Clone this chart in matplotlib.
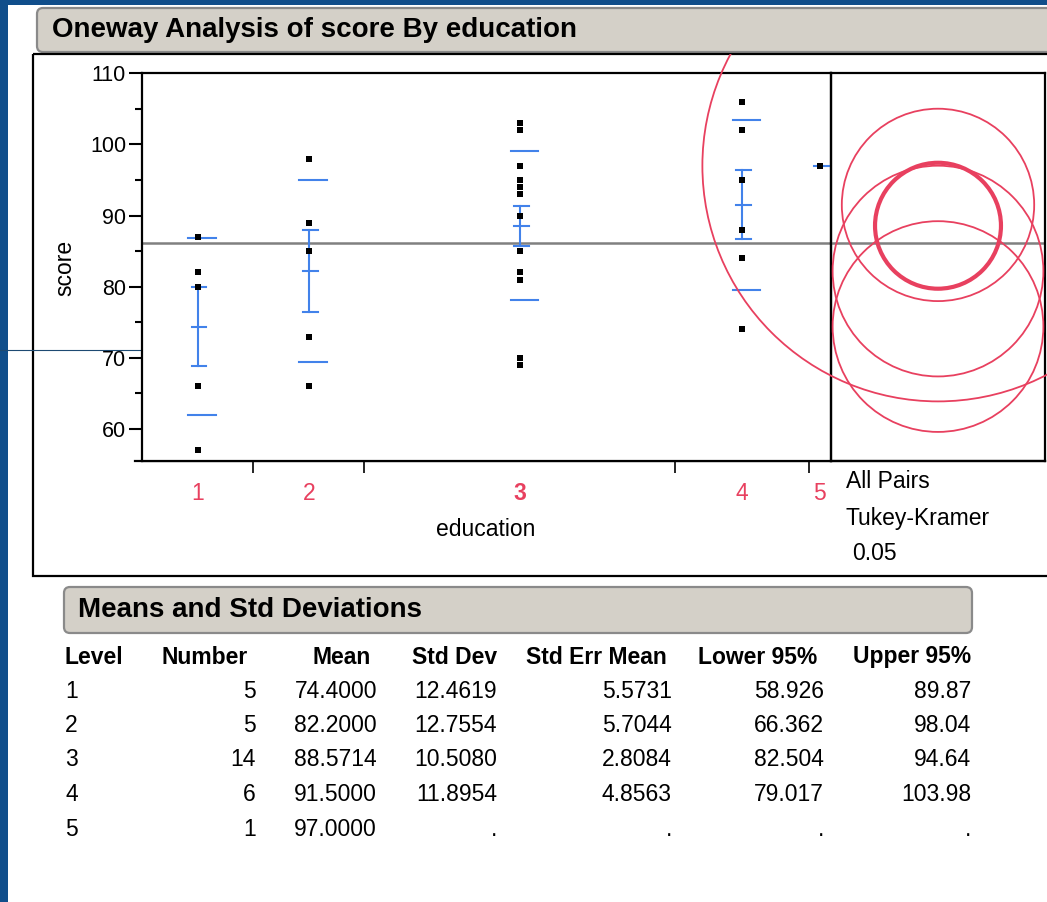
import matplotlib
matplotlib.use('Agg')
import matplotlib.pyplot as plt
from matplotlib.patches import Rectangle, FancyBboxPatch, Circle
import numpy as np

plt.rcParams['font.family'] = ['Liberation Sans', 'DejaVu Sans']

# ---------------- data ----------------
levels = ['1', '2', '3', '4', '5']
scores_1 = [87, 82, 80, 66, 57]
scores_2 = [98, 89, 85, 73, 66]
scores_3 = [103, 102, 97, 95, 94, 94, 93, 90, 85, 85, 82, 81, 70, 69]
scores_4 = [106, 102, 95, 88, 84, 74]
scores_5 = [97]
groups = [scores_1, scores_2, scores_3, scores_4, scores_5]

counts = [5, 5, 14, 6, 1]
means = [74.4000, 82.2000, 88.5714, 91.5000, 97.0000]
std_devs = [12.4619, 12.7554, 10.5080, 11.8954, None]
std_errs = [5.5731, 5.7044, 2.8084, 4.8563, None]
lower95 = [58.926, 66.362, 82.504, 79.017, None]
upper95 = [89.87, 98.04, 94.64, 103.98, None]
q_star = 2.89  # Tukey-Kramer quantile used for comparison circles
selected_level = '3'

yticks = [60, 70, 80, 90, 100, 110]
ylim = (55.5, 110)

# ---------------- colours ----------------
BG_BLUE = '#104e8b'
BEIGE = '#d4d0c8'
RED = '#e8405f'
BLUE = '#4282ea'
GRAY = '#808080'

W, H = 1047, 902
fig = plt.figure(figsize=(W / 100, H / 100), dpi=100, facecolor=BG_BLUE)

# background / decoration axes in pixel coordinates
bg = fig.add_axes([0, 0, 1, 1])
bg.set_xlim(0, W)
bg.set_ylim(H, 0)
bg.axis('off')
bg.add_patch(Rectangle((8, 5), W, H, fc='white', ec='none'))
bg.add_patch(FancyBboxPatch((37, 8), 1100, 44, boxstyle='round,pad=0,rounding_size=6',
                            fc=BEIGE, ec='#8a8a8a', lw=1.6))
bg.add_patch(Rectangle((33, 54), 1100, 522, fill=False, ec='black', lw=1.6))
bg.text(52, 30, 'Oneway Analysis of score By education', fontsize=20, fontweight='bold',
        ha='left', va='center', color='black')
bg.plot([0, 141], [349.5, 349.5], color='#1d4a72', lw=0.8)
bg.plot([135, 1045], [461, 461], color='black', lw=1.6)

# second header
bg.add_patch(FancyBboxPatch((64, 587), 908, 46, boxstyle='round,pad=0,rounding_size=6',
                            fc=BEIGE, ec='#8a8a8a', lw=1.6))
bg.text(78, 610, 'Means and Std Deviations', fontsize=20, fontweight='bold',
        ha='left', va='center')

# ---------------- main plot ----------------
px_left, px_right, px_top, px_bot = 142, 831, 73.3, 461
ax = fig.add_axes([px_left / W, 1 - px_bot / H, (px_right - px_left) / W, (px_bot - px_top) / H])
N = sum(counts)
edges = np.concatenate([[0], np.cumsum(counts)])
centers = (edges[:-1] + edges[1:]) / 2
ax.set_xlim(0, N)
ax.set_ylim(*ylim)

all_scores = [s for g in groups for s in g]
grand_mean = np.mean(all_scores)
ax.axhline(grand_mean, color=GRAY, lw=1.8, zorder=2)

for c, g, m, sd, se in zip(centers, groups, means, std_devs, std_errs):
    if sd is not None:
        for v in (m - sd, m + sd):
            ax.plot([c - 0.42, c + 0.81], [v, v], color=BLUE, lw=1.5, zorder=3)
        ax.plot([c, c], [m - se, m + se], color=BLUE, lw=1.5, zorder=3)
        for v in (m - se, m, m + se):
            ax.plot([c - 0.27, c + 0.40], [v, v], color=BLUE, lw=1.5, zorder=3)
    else:
        ax.plot([c - 0.27, c + 0.40], [m, m], color=BLUE, lw=1.5, zorder=3)
    ax.plot([c] * len(g), g, 's', color='black', ms=4.5, mew=0, zorder=4)

for sp in ax.spines.values():
    sp.set_linewidth(1.6)
    sp.set_color('black')
ax.set_yticks(yticks)
ax.set_yticks([65, 75, 85, 95, 105], minor=True)
ax.tick_params(axis='y', which='major', length=9.5, width=1.5, labelsize=15.5, pad=2)
ax.tick_params(axis='y', which='minor', length=5, width=1.5)
ax.set_xticks(edges[1:-1])
ax.set_xticklabels([])
ax.tick_params(axis='x', which='major', length=8.5, width=1.2, direction='out')

for c, lab in zip(centers, levels):
    ax.text(c, 493, lab, transform=ax.get_xaxis_transform() if False else None,
            fontsize=16.5, color=RED, ha='center', va='center',
            fontweight='bold' if lab == selected_level else 'normal') if False else None
    x_px = px_left + c / N * (px_right - px_left)
    bg.text(x_px, 494, lab, fontsize=16.5, color=RED, ha='center', va='center',
            fontweight='bold' if lab == selected_level else 'normal')

bg.text(486, 529, 'education', fontsize=16.5, ha='center', va='center')
bg.text(65, 268, 'score', fontsize=16.5, ha='center', va='center', rotation=90)
bg.text(846, 482, 'All Pairs', fontsize=16.5, ha='left', va='center')
bg.text(846, 518, 'Tukey-Kramer', fontsize=16.5, ha='left', va='center')
bg.text(852, 553, '0.05', fontsize=16.5, ha='left', va='center')

# ---------------- comparison circles ----------------
pr_right = 1045
axr = fig.add_axes([px_right / W, 1 - px_bot / H, (pr_right - px_right) / W, (px_bot - px_top) / H])
axr.set_ylim(*ylim)
px_per_unit = (px_bot - px_top) / (ylim[1] - ylim[0])
xr = (pr_right - px_right) / px_per_unit
axr.set_xlim(0, xr)
axr.set_xticks([])
axr.set_yticks([])
axr.patch.set_alpha(0)
for sp in axr.spines.values():
    sp.set_linewidth(1.6)
    sp.set_color('black')
axr.axhline(grand_mean, color=GRAY, lw=1.8, zorder=2)

sd_vals = [s for s in std_devs if s is not None]
n_vals = [n for n, s in zip(counts, std_devs) if s is not None]
rmse = np.sqrt(sum((n - 1) * s ** 2 for n, s in zip(n_vals, sd_vals)) / (N - len(counts)))
clip_rect = Rectangle((33 / W, 1 - 576 / H), (W - 33) / W, (576 - 54) / H, transform=fig.transFigure)
order = sorted(range(len(levels)), key=lambda i: levels[i] == selected_level)
for i in order:
    r = q_star * rmse / np.sqrt(counts[i])
    thick = levels[i] == selected_level
    circ = Circle((xr / 2, means[i]), r, fill=False, ec=RED, lw=3.0 if thick else 1.3, zorder=5)
    axr.add_patch(circ)
    circ.set_clip_path(clip_rect)

# ---------------- table ----------------
hdr_y = 657
row_y = [691, 725.5, 760, 794.5, 829]
col_right = [256, 377, 497, 672, 824, 971]
hdr_right = [248, 371, 497, 667, 817, 971]
headers = ['Number', 'Mean', 'Std Dev', 'Std Err Mean', 'Lower 95%', 'Upper 95%']
bg.text(65, hdr_y, 'Level', fontsize=16.5, fontweight='bold', ha='left', va='center')
for x, h in zip(hdr_right, headers):
    bg.text(x, hdr_y, h, fontsize=16.5, fontweight='bold', ha='right', va='center')


def fmt(v, d):
    return '.' if v is None else f'{v:.{d}f}'


for i, y in enumerate(row_y):
    vals = [str(counts[i]), fmt(means[i], 4), fmt(std_devs[i], 4), fmt(std_errs[i], 4),
            fmt(lower95[i], 3), fmt(upper95[i], 2)]
    bg.text(65, y, levels[i], fontsize=16.5, ha='left', va='center')
    for x, v in zip(col_right, vals):
        bg.text(x, y, v, fontsize=16.5, ha='right', va='center')

fig.savefig('out.png', dpi=100, facecolor=BG_BLUE)
